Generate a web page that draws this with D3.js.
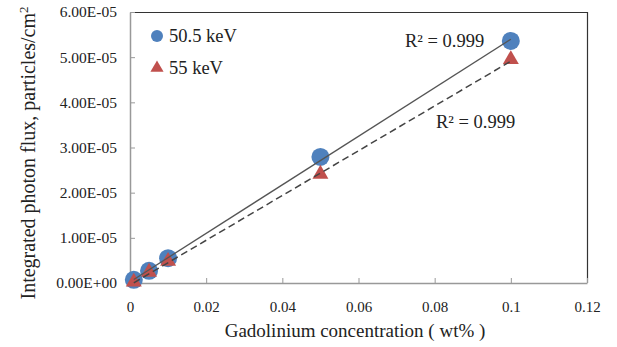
<!DOCTYPE html>
<html>
<head>
<meta charset="utf-8">
<script src="https://cdn.jsdelivr.net/npm/d3@7"></script>
<style>
  body { margin: 0; background: #fff; }
  svg text { font-family: "Times New Roman", "Liberation Serif", "DejaVu Serif", serif !important; fill: #222; }
</style>
</head>
<body>
<svg id="chart" width="617" height="347"></svg>
<script>
// data
var concentrations = [0.001, 0.005, 0.01, 0.05, 0.1];
var flux505 = [0.07e-5, 0.27e-5, 0.55e-5, 2.79e-5, 5.36e-5];
var flux55 = [0.0e-5, 0.22e-5, 0.46e-5, 2.39e-5, 4.93e-5];
var xTicks = [0, 0.02, 0.04, 0.06, 0.08, 0.1, 0.12];
var xTickLabels = ["0", "0.02", "0.04", "0.06", "0.08", "0.1", "0.12"];
var yTicks = [0, 1e-5, 2e-5, 3e-5, 4e-5, 5e-5, 6e-5];
var yTickLabels = ["0.00E+00", "1.00E-05", "2.00E-05", "3.00E-05", "4.00E-05", "5.00E-05", "6.00E-05"];
var seriesNames = ["50.5 keV", "55 keV"];
var r2Labels = ["R\u00b2 = 0.999", "R\u00b2 = 0.999"];

var BLUE = "#4f81bd", RED = "#c0504d";
var MARGIN_LEFT = 130, MARGIN_TOP = 12, PLOT_RIGHT = 587, PLOT_BOTTOM = 283;

var svg = d3.select("#chart");

var x = d3.scaleLinear().domain([0, 0.12]).range([MARGIN_LEFT, PLOT_RIGHT]);
var y = d3.scaleLinear().domain([0, 6e-5]).range([PLOT_BOTTOM, MARGIN_TOP]);

// top and right edges of the frame are dark
svg.append("path")
    .attr("d", "M" + MARGIN_LEFT + "," + (MARGIN_TOP + 0.5) + "H" + (PLOT_RIGHT + 0.5) + "V" + PLOT_BOTTOM)
    .attr("fill", "none").attr("stroke", "#333").attr("stroke-width", 1.2);

// axes with inward ticks
var xAxis = svg.append("g")
    .attr("transform", "translate(0," + PLOT_BOTTOM + ")")
    .call(d3.axisBottom(x).tickValues(xTicks).tickSizeInner(-5).tickSizeOuter(0)
        .tickFormat(function(d, i){ return xTickLabels[i]; }));
xAxis.attr("font-family", null);
xAxis.select(".domain").attr("stroke", "#999").attr("stroke-width", 1.5);
xAxis.selectAll(".tick line").attr("stroke", "#999");
xAxis.selectAll("text").attr("y", 18).style("font-size", "15px").attr("fill", "#222");

var yAxis = svg.append("g")
    .attr("transform", "translate(" + MARGIN_LEFT + ",0)")
    .call(d3.axisLeft(y).tickValues(yTicks).tickSizeInner(-5).tickSizeOuter(0)
        .tickFormat(function(d, i){ return yTickLabels[i]; }));
yAxis.attr("font-family", null);
yAxis.select(".domain").attr("stroke", "#999").attr("stroke-width", 1.5);
yAxis.selectAll(".tick line").attr("stroke", "#999");
yAxis.selectAll("text").attr("x", -13).style("font-size", "15.5px").attr("fill", "#222");

// least squares trend line through the points
function fit(xs, ys){
    var n = xs.length, mx = d3.mean(xs), my = d3.mean(ys);
    var sxy = 0, sxx = 0;
    for (var i = 0; i < n; i++){
        sxy += (xs[i] - mx) * (ys[i] - my);
        sxx += (xs[i] - mx) * (xs[i] - mx);
    }
    var b = sxy / sxx;
    return { slope: b, intercept: my - b * mx };
}

var line = d3.line().x(function(d){ return x(d[0]); }).y(function(d){ return y(d[1]); });
var xEnds = [d3.min(concentrations), d3.max(concentrations)];

// markers
var tri = d3.symbol().type(d3.symbolTriangle).size(110);

svg.selectAll(".pt505").data(concentrations).enter().append("circle")
    .attr("class", "pt505")
    .attr("cx", function(d){ return x(d); })
    .attr("cy", function(d, i){ return y(flux505[i]); })
    .attr("r", 9).attr("fill", BLUE);

svg.selectAll(".pt55").data(concentrations).enter().append("path")
    .attr("class", "pt55")
    .attr("d", tri)
    .attr("transform", function(d, i){ return "translate(" + x(d) + "," + (y(flux55[i]) - 1) + ")"; })
    .attr("fill", RED);

// trend lines drawn above the markers
var f1 = fit(concentrations, flux505);
svg.append("path")
    .attr("d", line(xEnds.map(function(v){ return [v, f1.intercept + f1.slope * v]; })))
    .attr("stroke", "#555").attr("stroke-width", 1.3).attr("fill", "none");

var f2 = fit(concentrations, flux55);
svg.append("path")
    .attr("d", line(xEnds.map(function(v){ return [v, f2.intercept + f2.slope * v]; })))
    .attr("stroke", "#444").attr("stroke-width", 1.5).attr("stroke-dasharray", "7,4").attr("fill", "none");

// legend
var legend = svg.append("g");
legend.append("circle").attr("cx", 157).attr("cy", 36).attr("r", 6).attr("fill", BLUE);
legend.append("text").attr("x", 169).attr("y", 42).text(seriesNames[0]).style("font-size", "18.5px");
legend.append("path").attr("d", d3.symbol().type(d3.symbolTriangle).size(75))
    .attr("transform", "translate(157,68)").attr("fill", RED);
legend.append("text").attr("x", 169).attr("y", 74).text(seriesNames[1]).style("font-size", "18.5px");

// R² labels
svg.append("text").attr("x", 405).attr("y", 47).text(r2Labels[0]).style("font-size", "18.5px");
svg.append("text").attr("x", 436).attr("y", 128).text(r2Labels[1]).style("font-size", "18.5px");

// axis titles
svg.append("text")
    .attr("x", 355).attr("y", 337)
    .attr("text-anchor", "middle")
    .style("font-size", "19px")
    .text("Gadolinium concentration ( wt% )");

var yTitle = svg.append("text")
    .attr("transform", "translate(35," + 153 + ") rotate(-90)")
    .attr("text-anchor", "middle")
    .style("font-size", "20px");
yTitle.append("tspan").text("Integrated photon flux,  particles/cm");
yTitle.append("tspan").attr("baseline-shift", "super").style("font-size", "13px").text("2");
</script>
</body>
</html>
